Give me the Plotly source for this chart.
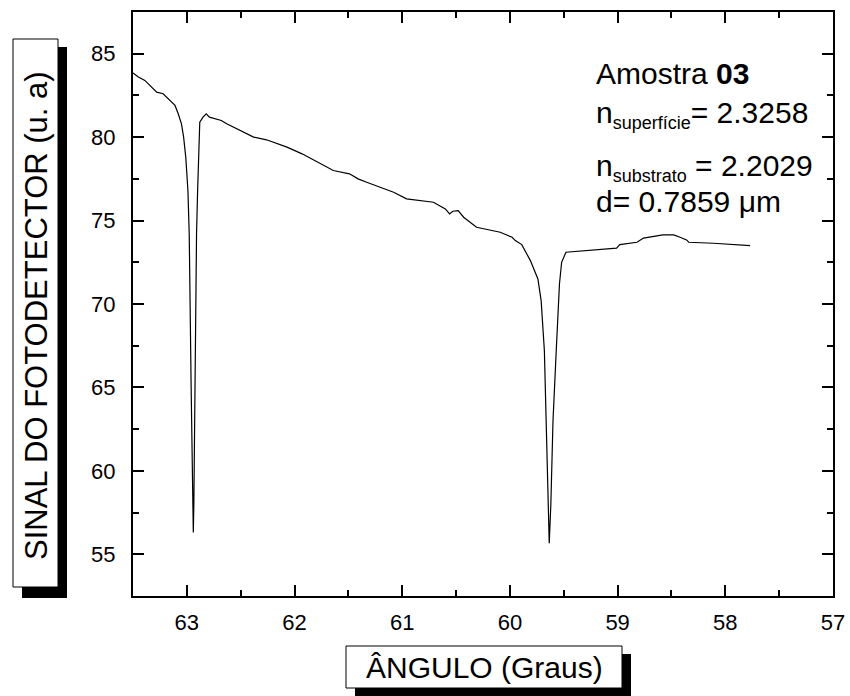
import plotly.graph_objects as go

# ---- data ----
angle = [63.50, 63.45, 63.39, 63.36, 63.31, 63.28, 63.22, 63.17, 63.11, 63.08,
         63.05, 63.03, 63.01, 62.99, 62.978, 62.96, 62.945, 62.94, 62.935, 62.925,
         62.91, 62.90, 62.89, 62.88, 62.85, 62.82, 62.79, 62.68, 62.63, 62.55,
         62.46, 62.38, 62.26, 62.16, 62.07, 61.93, 61.84, 61.76, 61.64, 61.49,
         61.41, 61.33, 61.21, 61.08, 60.96, 60.84, 60.71, 60.60, 60.56, 60.53,
         60.48, 60.43, 60.31, 60.20, 60.09, 59.98, 59.95, 59.89, 59.81, 59.74,
         59.71, 59.68, 59.66, 59.645, 59.635, 59.62, 59.60, 59.57, 59.54, 59.52,
         59.48, 59.01, 58.98, 58.82, 58.76, 58.58, 58.48, 58.42, 58.36, 58.34,
         58.11, 57.77]
signal = [83.84, 83.6, 83.4, 83.2, 82.84, 82.7, 82.6, 82.3, 81.9, 81.4,
          80.8, 80.0, 78.8, 76.8, 74.2, 65.0, 57.5, 56.3, 58.0, 66.0,
          74.2, 76.8, 79.2, 80.9, 81.2, 81.4, 81.2, 81.0, 80.8, 80.55,
          80.3, 80.0, 79.84, 79.6, 79.4, 79.0, 78.7, 78.4, 78.0, 77.8,
          77.5, 77.3, 77.0, 76.7, 76.3, 76.2, 76.1, 75.7, 75.4, 75.56,
          75.6, 75.2, 74.6, 74.45, 74.3, 74.0, 73.8, 73.56, 72.6, 71.5,
          70.2, 67.2, 62.0, 57.0, 55.67, 58.0, 63.0, 67.2, 71.2, 72.5,
          73.1, 73.35, 73.56, 73.7, 73.95, 74.14, 74.14, 74.0, 73.84, 73.7,
          73.64, 73.5]

x_ticks = [63, 62, 61, 60, 59, 58, 57]
y_ticks = [55, 60, 65, 70, 75, 80, 85]

info_lines = ["Amostra <b>03</b>",
              "n<sub><span style='font-size:18px'>superfície</span></sub>= 2.3258",
              "n<sub><span style='font-size:18px'>substrato</span></sub> = 2.2029",
              "d= 0.7859 μm"]

FONT = "Arial, Liberation Sans, sans-serif"
W, H = 850, 696
L, R, T, B = 133, 17, 12, 100
PW, PH = W - L - R, H - T - B


def px(xp):
    return (xp - L) / PW


def py(yp):
    return (H - B - yp) / PH


fig = go.Figure()
fig.add_trace(go.Scatter(x=angle, y=signal, mode="lines",
                         line=dict(color="black", width=1.2),
                         showlegend=False, hoverinfo="skip"))

axis_common = dict(showline=True, linecolor="black", linewidth=2, mirror="ticks",
                   ticks="inside", ticklen=11, tickwidth=2, tickcolor="black",
                   showgrid=False, zeroline=False, automargin=False,
                   tickfont=dict(family=FONT, size=22, color="black"))

fig.update_xaxes(range=[63.5, 57], tickvals=x_ticks,
                 ticktext=[str(v) for v in x_ticks],
                 ticklabelstandoff=6,
                 minor=dict(dtick=0.5, tick0=57, ticks="inside", ticklen=6,
                            tickwidth=2, tickcolor="black"),
                 **axis_common)
fig.update_yaxes(range=[52.5, 87.5], tickvals=y_ticks,
                 ticktext=[str(v) for v in y_ticks],
                 ticklabelstandoff=11,
                 minor=dict(dtick=2.5, tick0=55, ticks="inside", ticklen=6,
                            tickwidth=2, tickcolor="black"),
                 **axis_common)

shapes = []
# y title box with shadow
shapes.append(dict(type="rect", xref="paper", yref="paper",
                   x0=px(22), x1=px(67), y0=py(598), y1=py(47),
                   fillcolor="black", line=dict(width=0)))
shapes.append(dict(type="rect", xref="paper", yref="paper",
                   x0=px(13), x1=px(58), y0=py(587), y1=py(39),
                   fillcolor="white", line=dict(color="black", width=1)))
# x title box with shadow
shapes.append(dict(type="rect", xref="paper", yref="paper",
                   x0=px(355), x1=px(631), y0=py(696), y1=py(654),
                   fillcolor="black", line=dict(width=0)))
shapes.append(dict(type="rect", xref="paper", yref="paper",
                   x0=px(346), x1=px(622), y0=py(688), y1=py(646),
                   fillcolor="white", line=dict(color="black", width=1)))

annotations = []
annotations.append(dict(text="SINAL DO FOTODETECTOR (u. a)", textangle=-90,
                        xref="paper", yref="paper", x=px(36), y=py(316),
                        xanchor="center", yanchor="middle", showarrow=False,
                        font=dict(family=FONT, size=31, color="black")))
annotations.append(dict(text="ÂNGULO (Graus)",
                        xref="paper", yref="paper", x=px(484), y=py(667),
                        xanchor="center", yanchor="middle", showarrow=False,
                        font=dict(family=FONT, size=30, color="black")))

info_y = [73, 115, 167, 201]
for txt, yy in zip(info_lines, info_y):
    annotations.append(dict(text=txt, xref="paper", yref="paper",
                            x=px(594), y=py(yy), xanchor="left", yanchor="middle",
                            showarrow=False,
                            font=dict(family=FONT, size=30, color="black")))

fig.update_layout(width=W, height=H,
                  margin=dict(l=L, r=R, t=T, b=B),
                  plot_bgcolor="white", paper_bgcolor="white",
                  shapes=shapes, annotations=annotations)

fig.write_html("out.html")
